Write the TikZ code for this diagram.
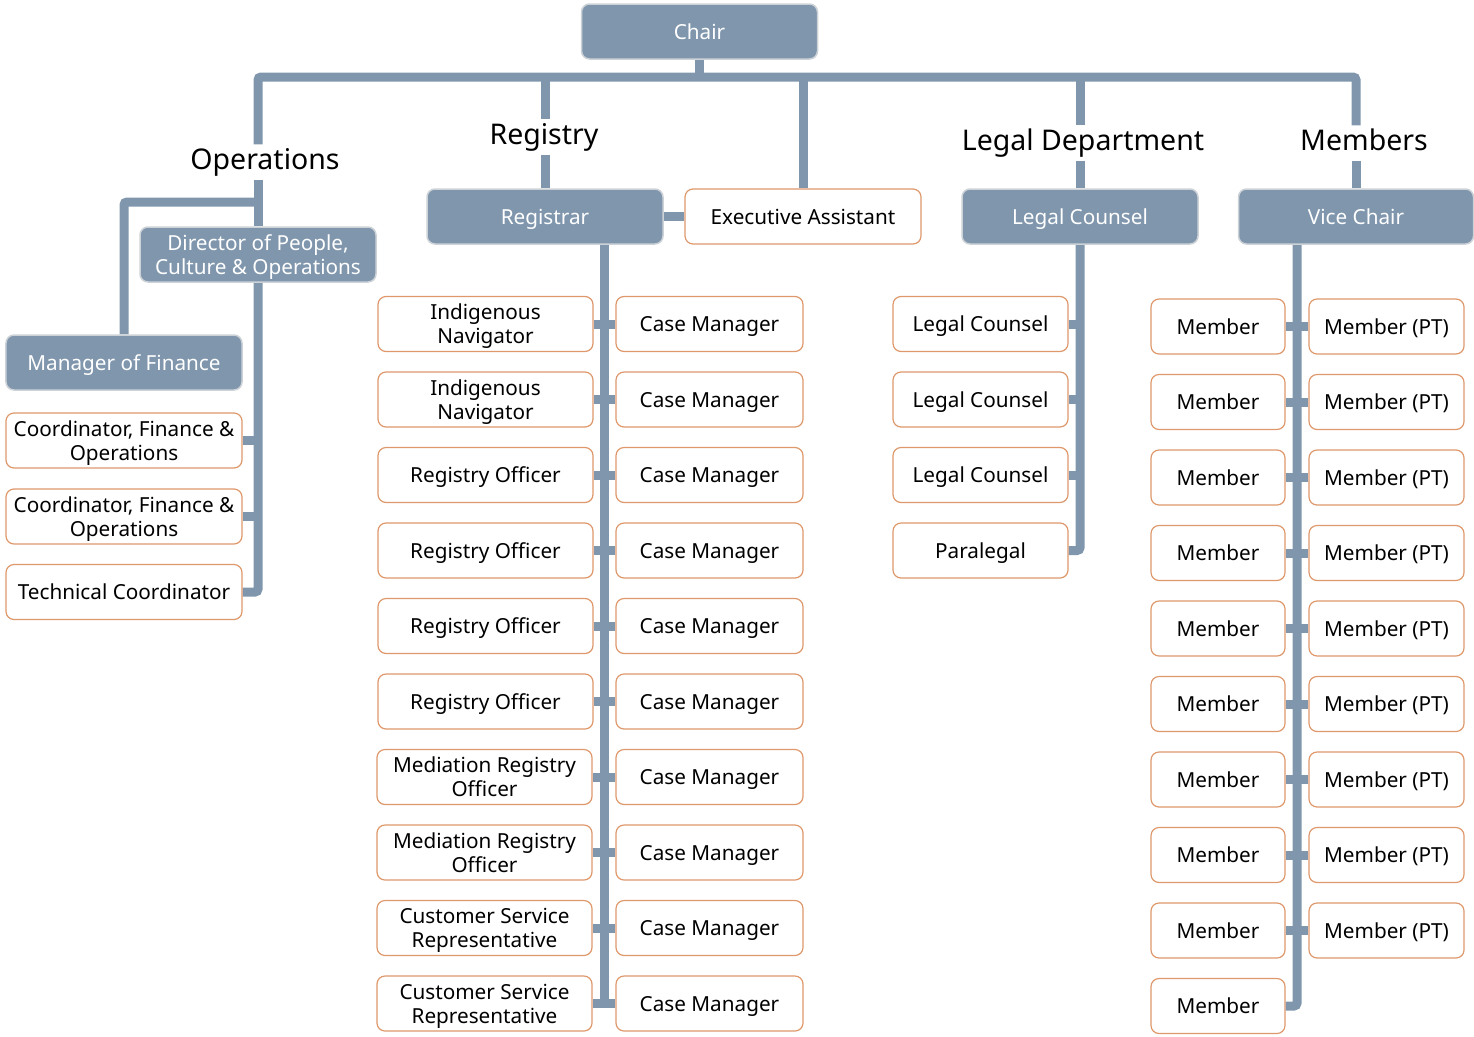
\documentclass[tikz,border=0pt]{standalone}
\usepackage{fontspec}
\setmainfont{Noto Sans}
\usepackage{tikz}
\usetikzlibrary{backgrounds}
\definecolor{headblue}{RGB}{127,150,173}
\definecolor{boxedge}{RGB}{222,152,108}
\definecolor{headedge}{RGB}{205,210,215}

\begin{document}
\begin{tikzpicture}[x=1bp,y=-1bp]
\tikzstyle{every node}+=[inner sep=0pt]
\tikzstyle{head}=[draw=headedge,line width=1.5bp,fill=headblue,text=white,rounded corners=8bp,minimum width=236bp,minimum height=55bp,text depth=0pt,align=center,font=\fontsize{20.8}{24}\selectfont]
\tikzstyle{post}=[draw=boxedge,line width=1.2bp,fill=white,text=black,rounded corners=8bp,minimum height=55bp,text depth=0pt,align=center,font=\fontsize{20.8}{24}\selectfont]
\tikzstyle{dept}=[inner sep=4bp,text height=21bp,text depth=6bp,font=\fontsize{28.6}{34}\selectfont]
\tikzstyle{conn}=[draw=headblue,line width=9bp]
\useasboundingbox (0,0) rectangle (1474,1036);
\node[head] (chair) at (699.5,31.5) {Chair};
\node[dept] (opslbl) at (265,162) {Operations};
\node[head] (dir) at (258,254.5) {Director of People,\\Culture \& Operations};
\node[head] (fin) at (124,362.5) {Manager of Finance};
\node[post,minimum width=236bp] (coord1) at (124,440.5) {Coordinator, Finance \&\\Operations};
\node[post,minimum width=236bp] (coord2) at (124,516.5) {Coordinator, Finance \&\\Operations};
\node[post,minimum width=236bp] (tech) at (124,592) {Technical Coordinator};
\node[dept] (reglbl) at (544,137) {Registry};
\node[head] (reg) at (545,216.5) {Registrar};
\node[post,minimum width=236bp] (exec) at (803,216.5) {Executive Assistant};
\node[post,minimum width=215bp] (reg1) at (485.5,324) {Indigenous\\Navigator};
\node[post,minimum width=215bp] (reg2) at (485.5,399.5) {Indigenous\\Navigator};
\node[post,minimum width=215bp] (reg3) at (485.5,475) {Registry Officer};
\node[post,minimum width=215bp] (reg4) at (485.5,550.5) {Registry Officer};
\node[post,minimum width=215bp] (reg5) at (485.5,626) {Registry Officer};
\node[post,minimum width=215bp] (reg6) at (485.5,701.5) {Registry Officer};
\node[post,minimum width=215bp] (reg7) at (484.5,777) {Mediation Registry\\Officer};
\node[post,minimum width=215bp] (reg8) at (484.5,852.5) {Mediation Registry\\Officer};
\node[post,minimum width=215bp] (reg9) at (484.5,928) {Customer Service\\Representative};
\node[post,minimum width=215bp] (reg10) at (484.5,1003.5) {Customer Service\\Representative};
\node[post,minimum width=187bp] (case1) at (709.5,324) {Case Manager};
\node[post,minimum width=187bp] (case2) at (709.5,399.5) {Case Manager};
\node[post,minimum width=187bp] (case3) at (709.5,475) {Case Manager};
\node[post,minimum width=187bp] (case4) at (709.5,550.5) {Case Manager};
\node[post,minimum width=187bp] (case5) at (709.5,626) {Case Manager};
\node[post,minimum width=187bp] (case6) at (709.5,701.5) {Case Manager};
\node[post,minimum width=187bp] (case7) at (709.5,777) {Case Manager};
\node[post,minimum width=187bp] (case8) at (709.5,852.5) {Case Manager};
\node[post,minimum width=187bp] (case9) at (709.5,928) {Case Manager};
\node[post,minimum width=187bp] (case10) at (709.5,1003.5) {Case Manager};
\node[dept] (leglbl) at (1083,143) {Legal Department};
\node[head] (legal) at (1080,216.5) {Legal Counsel};
\node[post,minimum width=175bp] (lc1) at (980.5,324) {Legal Counsel};
\node[post,minimum width=175bp] (lc2) at (980.5,399.5) {Legal Counsel};
\node[post,minimum width=175bp] (lc3) at (980.5,475) {Legal Counsel};
\node[post,minimum width=175bp] (para) at (980.5,550.5) {Paralegal};
\node[dept] (memlbl) at (1364,143) {Members};
\node[head,minimum width=235bp] (vice) at (1356,216.5) {Vice Chair};
\node[post,minimum width=134bp] (mem1) at (1218,326.5) {Member};
\node[post,minimum width=134bp] (mem2) at (1218,402) {Member};
\node[post,minimum width=134bp] (mem3) at (1218,477.5) {Member};
\node[post,minimum width=134bp] (mem4) at (1218,553) {Member};
\node[post,minimum width=134bp] (mem5) at (1218,628.5) {Member};
\node[post,minimum width=134bp] (mem6) at (1218,704) {Member};
\node[post,minimum width=134bp] (mem7) at (1218,779.5) {Member};
\node[post,minimum width=134bp] (mem8) at (1218,855) {Member};
\node[post,minimum width=134bp] (mem9) at (1218,930.5) {Member};
\node[post,minimum width=134bp] (mem10) at (1218,1006) {Member};
\node[post,minimum width=155bp] (mpt1) at (1386.5,326.5) {Member (PT)};
\node[post,minimum width=155bp] (mpt2) at (1386.5,402) {Member (PT)};
\node[post,minimum width=155bp] (mpt3) at (1386.5,477.5) {Member (PT)};
\node[post,minimum width=155bp] (mpt4) at (1386.5,553) {Member (PT)};
\node[post,minimum width=155bp] (mpt5) at (1386.5,628.5) {Member (PT)};
\node[post,minimum width=155bp] (mpt6) at (1386.5,704) {Member (PT)};
\node[post,minimum width=155bp] (mpt7) at (1386.5,779.5) {Member (PT)};
\node[post,minimum width=155bp] (mpt8) at (1386.5,855) {Member (PT)};
\node[post,minimum width=155bp] (mpt9) at (1386.5,930.5) {Member (PT)};
\coordinate (bus) at (699.5,77);
\coordinate (opsfork) at (258,202);
\coordinate (regbus) at (604.5,244);
\coordinate (membus) at (1297,244);
\begin{scope}[on background layer]
\draw[conn] (chair.south) -- (bus);
\draw[conn,rounded corners=3bp] (dir |- opslbl.north) |- (vice |- bus) -- (vice |- memlbl.north);
\draw[conn] (dir |- opslbl.south) -- (dir.north);
\draw[conn,rounded corners=3bp] (fin.north) |- (opsfork);
\draw[conn,rounded corners=3bp] (dir.south) |- (tech.east);
\draw[conn] (coord1.east) -- (coord1.east -| dir);
\draw[conn] (coord2.east) -- (coord2.east -| dir);
\draw[conn] (reg |- bus) -- (reg |- reglbl.north);
\draw[conn] (reg |- reglbl.south) -- (reg.north);
\draw[conn] (exec |- bus) -- (exec.north);
\draw[conn] (reg.east) -- (exec.west);
\draw[conn] (regbus) -- (regbus |- reg10.center);
\draw[conn] (reg1.east) -- (case1.west);
\draw[conn] (reg2.east) -- (case2.west);
\draw[conn] (reg3.east) -- (case3.west);
\draw[conn] (reg4.east) -- (case4.west);
\draw[conn] (reg5.east) -- (case5.west);
\draw[conn] (reg6.east) -- (case6.west);
\draw[conn] (reg7.east) -- (case7.west);
\draw[conn] (reg8.east) -- (case8.west);
\draw[conn] (reg9.east) -- (case9.west);
\draw[conn] (reg10.east) -- (case10.west);
\draw[conn] (legal |- bus) -- (legal |- leglbl.north);
\draw[conn] (legal |- leglbl.south) -- (legal.north);
\draw[conn,rounded corners=3bp] (legal.south) |- (para.east);
\draw[conn] (lc1.east) -- (lc1.east -| legal);
\draw[conn] (lc2.east) -- (lc2.east -| legal);
\draw[conn] (lc3.east) -- (lc3.east -| legal);
\draw[conn] (vice |- memlbl.south) -- (vice.north);
\draw[conn,rounded corners=3bp] (membus) |- (mem10.east);
\draw[conn] (mem1.east) -- (mpt1.west);
\draw[conn] (mem2.east) -- (mpt2.west);
\draw[conn] (mem3.east) -- (mpt3.west);
\draw[conn] (mem4.east) -- (mpt4.west);
\draw[conn] (mem5.east) -- (mpt5.west);
\draw[conn] (mem6.east) -- (mpt6.west);
\draw[conn] (mem7.east) -- (mpt7.west);
\draw[conn] (mem8.east) -- (mpt8.west);
\draw[conn] (mem9.east) -- (mpt9.west);
\end{scope}
\end{tikzpicture}
\end{document}
